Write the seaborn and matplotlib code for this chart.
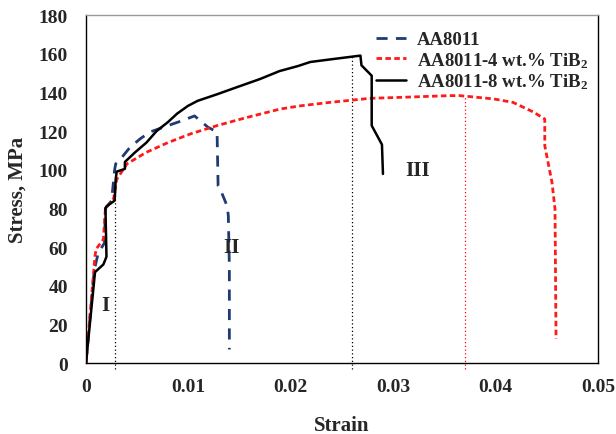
import numpy as np
import pandas as pd
import matplotlib
matplotlib.use('Agg')
import matplotlib.pyplot as plt
import seaborn as sns

# stress-strain curves
strain_base = [0, 0.0008, 0.0012, 0.0018, 0.0019, 0.0025, 0.0028, 0.0029, 0.0036, 0.0043, 0.0053,
               0.00625, 0.0079, 0.0092, 0.0106, 0.0119, 0.0128, 0.0129, 0.0131, 0.0138,
               0.0139, 0.0140, 0.0140]
stress_base = [0, 48, 57, 62, 80, 84, 100, 103, 107, 111.6, 116, 119.5, 122.6, 125, 127.8, 122,
               119.5, 91.6, 90, 81, 76, 50, 7]

strain_4 = [0, 0.00088, 0.001, 0.0017, 0.0019, 0.0027, 0.003, 0.004, 0.0059, 0.008, 0.0102,
            0.0128, 0.0157, 0.019, 0.0209, 0.0238, 0.0277, 0.0307, 0.0355, 0.0365, 0.0398,
            0.0417, 0.0437, 0.0448, 0.0448, 0.0455, 0.0458, 0.0459]
stress_4 = [0, 55.5, 59, 64, 80, 85, 95, 103, 109, 114, 118.5, 122.8, 127, 131.4, 133, 134.8,
            136.9, 137.4, 138.3, 138.3, 136.6, 134.8, 129.8, 126.2, 112.4, 93.6, 79.7, 12.4]

strain_8 = [0, 0.00088, 0.0017, 0.002, 0.0019, 0.002, 0.0028, 0.0029, 0.0030, 0.0038, 0.0038,
            0.0048, 0.0059, 0.0069, 0.008, 0.0089, 0.00996, 0.0109, 0.0128, 0.0147, 0.017,
            0.0189, 0.0207, 0.0219, 0.0238, 0.0268, 0.0269, 0.0279, 0.0279, 0.0289, 0.029]
stress_8 = [0, 47, 51, 55, 80, 81, 84, 95, 99, 100.4, 104, 109, 114, 120, 124.6, 129, 133,
            135.6, 139, 142.6, 146.9, 151, 153.6, 155.7, 157, 159, 154, 148.6, 122.8, 113, 97.8]

# dotted markers of the stage boundaries
mark_strain = [0.0028, 0.026, 0.037]
mark_stress = [96, 159, 138]
mark_colors = ['black', 'black', 'red']

region_labels = ['I', 'II', 'III']
region_x = [0.0019, 0.0142, 0.0324]
region_y = [30, 60, 100]

serif = ['Times New Roman', 'Liberation Serif', 'DejaVu Serif']

sns.set_style('white')
plt.rcParams['font.family'] = serif
plt.rcParams['font.weight'] = 'bold'
plt.rcParams['mathtext.fontset'] = 'custom'
plt.rcParams['mathtext.rm'] = 'Liberation Serif:bold'
plt.rcParams['mathtext.it'] = 'Liberation Serif:bold'
plt.rcParams['mathtext.bf'] = 'Liberation Serif:bold'

fig = plt.figure(figsize=(6.16, 4.35), dpi=100)
ax = fig.add_axes([0.1396, 0.1632, 0.8312, 0.8])

for xv, yv, c in zip(mark_strain, mark_stress, mark_colors):
    ax.plot([xv, xv], [-3, yv], color=c, linestyle=(0, (1, 2)), linewidth=0.9, clip_on=False)

sns.lineplot(x=strain_base, y=stress_base, sort=False, estimator=None, ax=ax,
             color='#1f3b73', linewidth=2, linestyle=(0, (4, 3)), label='AA8011')
sns.lineplot(x=strain_4, y=stress_4, sort=False, estimator=None, ax=ax,
             color='#ff1a1a', linewidth=2, linestyle=(0, (2, 1.2)),
             label='AA8011-4 wt.% TiB$_2$')
sns.lineplot(x=strain_8, y=stress_8, sort=False, estimator=None, ax=ax,
             color='black', linewidth=1.8, label='AA8011-8 wt.% TiB$_2$')

for t, xv, yv in zip(region_labels, region_x, region_y):
    ax.text(xv, yv, t, fontsize=15, fontweight='bold', ha='center', va='center')

ax.set_xlim(0, 0.05)
ax.set_ylim(0, 180)
ax.set_xticks([0, 0.01, 0.02, 0.03, 0.04, 0.05])
ax.set_xticklabels(['0', '0.01', '0.02', '0.03', '0.04', '0.05'])
ax.set_yticks(range(0, 181, 20))
ax.tick_params(axis='x', labelsize=14, length=0, pad=11)
ax.tick_params(axis='y', labelsize=14, length=0, pad=13)
for lab in ax.get_xticklabels() + ax.get_yticklabels():
    lab.set_fontweight('bold')

ax.set_xlabel('Strain', fontsize=15, fontweight='bold', labelpad=14)
ax.set_ylabel('Stress, MPa', fontsize=15, fontweight='bold', labelpad=8)

for s in ax.spines.values():
    s.set_color('black')
    s.set_linewidth(1.0)
ax.spines['top'].set_color('#999999')

leg = ax.legend(loc='upper right', bbox_to_anchor=(1.012, 1.0), frameon=False,
                fontsize=13.5, handlelength=1.6, handletextpad=0.6, labelspacing=0.1,
                borderaxespad=0.45)
for t in leg.get_texts():
    t.set_fontweight('bold')

fig.savefig('out.png', dpi=100)
